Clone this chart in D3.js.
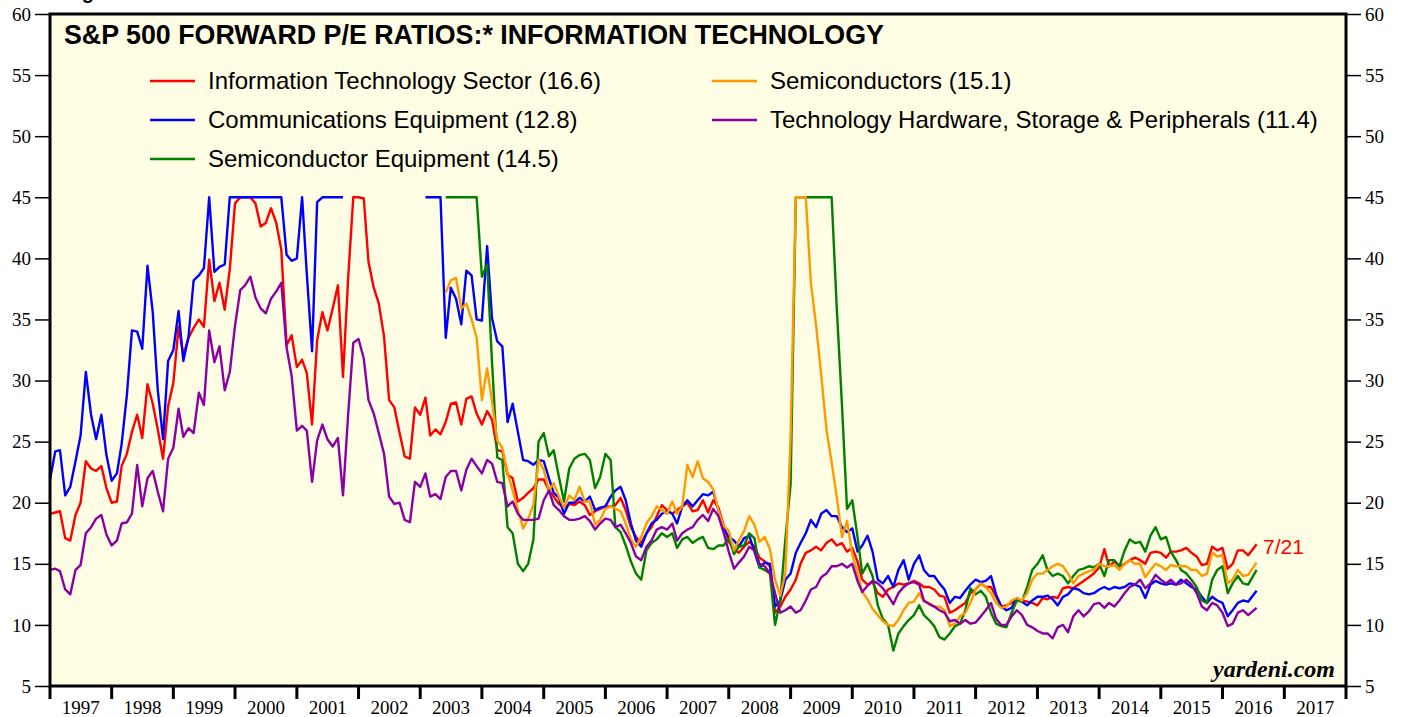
<!DOCTYPE html>
<html><head><meta charset="utf-8">
<script src="https://cdn.jsdelivr.net/npm/d3@7"></script>
<style>body{margin:0;background:#fff;} svg{display:block}</style>
</head><body><svg id="c" width="1405" height="717"></svg>
<script>
// ---------- DATA (monthly, Jan 1997 .. Jul 21 2016) ----------
const yearLabels = ["1997","1998","1999","2000","2001","2002","2003","2004","2005","2006","2007","2008","2009","2010","2011","2012","2013","2014","2015","2016","2017"];
const yTicks = [5,10,15,20,25,30,35,40,45,50,55,60];
const _ = null;

const itSector = [
19.1,19.2,19.3,17.1,16.9,19.0,20.0,23.4,22.8,22.6,23.0,21.2,
20.0,20.1,23.0,24.0,25.8,27.2,25.3,29.7,28.1,26.0,23.6,27.9,
29.8,34.4,32.1,33.5,34.3,35.0,34.4,39.9,36.5,38.0,35.8,39.1,
44.5,45,45,45,44.5,42.6,42.9,44.1,42.9,40.7,32.9,33.7,
31.1,31.7,30.6,26.4,33.3,35.6,34.1,35.9,37.8,30.3,38.5,45,
45,44.9,39.7,37.6,36.3,33.6,28.4,27.8,25.7,23.8,23.6,27.8,
27.2,28.6,25.5,26.0,25.6,26.6,28.1,28.2,26.4,28.5,28.7,27.3,
26.4,27.5,26.8,24.3,24.2,22.3,22.0,20.1,20.4,20.8,21.2,21.9,
21.9,21.0,20.5,19.9,19.6,19.9,19.8,20.1,19.8,19.0,19.3,19.5,
19.7,19.7,19.8,20.4,19.4,18.0,17.2,16.7,17.5,18.0,18.9,19.8,
19.4,19.1,19.4,19.7,20.0,19.3,19.4,20.2,19.2,20.2,19.6,18.2,
16.8,16.2,15.9,16.4,16.8,16.4,15.5,15.2,14.8,11.0,11.5,12.3,
12.9,13.7,15.0,15.9,16.1,16.4,16.1,16.7,17.0,16.5,16.7,16.0,
16.3,15.2,13.7,13.3,13.5,12.6,12.3,12.9,13.1,13.4,13.3,13.4,
13.6,13.4,13.1,13.1,12.9,12.4,12.3,11.0,11.2,11.5,11.8,12.6,
12.9,13.4,13.1,13.1,12.3,11.5,11.6,11.8,12.0,12.0,11.9,11.8,
11.6,12.2,12.1,12.3,12.2,13.0,13.1,13.0,13.3,13.6,13.9,14.2,
14.7,16.2,14.8,15.2,14.8,15.0,15.3,15.5,15.3,15.0,15.9,16.0,
15.9,15.5,16.0,16.0,16.1,16.3,15.9,15.6,14.9,15.0,16.4,16.1,
16.3,14.6,15.0,16.1,16.1,15.7,16.6];

const commEquip = [
21.9,24.2,24.3,20.6,21.3,23.4,25.5,30.7,27.2,25.2,27.2,23.9,
21.8,22.4,24.8,28.8,34.1,34.0,32.6,39.4,35.6,29.2,25.2,31.6,
32.5,35.7,31.6,33.6,38.2,38.6,39.2,45,38.9,39.3,39.5,45,
45,45,45,45,45,45,45,45,45,45,40.3,39.8,
40.0,45,38.7,32.4,44.6,45,45,45,45,45,_,_,
_,_,_,_,_,_,_,_,_,_,_,_,
_,45,45,45,45,33.5,37.6,36.7,34.6,39.0,38.6,35.0,
34.9,41.0,35.1,33.2,32.8,26.6,28.1,25.8,23.5,23.4,23.1,23.5,
23.4,22.0,20.8,20.4,19.1,20.0,20.0,20.4,20.1,20.5,19.4,19.6,
19.7,20.5,21.0,21.3,20.2,18.3,16.9,16.4,17.5,18.3,18.6,19.1,
19.3,19.1,18.3,19.7,20.2,19.7,20.2,20.7,20.6,20.9,19.4,17.9,
17.2,16.9,16.4,17.1,17.3,16.0,14.7,15.1,15.0,11.5,12.0,13.7,
14.2,15.9,16.7,17.5,18.6,18.0,19.1,19.4,18.9,18.9,18.0,17.6,
17.9,16.0,16.5,17.3,16.0,13.7,13.4,14.0,13.1,14.5,15.3,13.7,
15.0,15.7,14.5,14.0,14.0,13.4,12.9,11.8,12.3,12.2,12.8,13.3,
13.7,13.5,13.6,14.0,12.5,11.5,11.2,11.4,12.2,11.9,11.6,12.0,
12.3,12.3,12.4,12.1,11.6,12.3,12.5,13.0,12.9,12.6,12.5,12.6,
12.9,13.1,12.9,13.1,13.0,13.1,13.4,13.3,13.1,12.2,13.3,13.6,
13.4,13.3,13.4,13.3,13.7,13.4,13.1,12.9,12.3,11.8,12.3,12.0,
11.8,10.7,11.2,11.8,12.0,11.9,12.8];

const semiEquip = [
_,_,_,_,_,_,_,_,_,_,_,_,
_,_,_,_,_,_,_,_,_,_,_,_,
_,_,_,_,_,_,_,_,_,_,_,_,
_,_,_,_,_,_,_,_,_,_,_,_,
_,_,_,_,_,_,_,_,_,_,_,_,
_,_,_,_,_,_,_,_,_,_,_,_,
_,_,_,_,_,45,45,45,45,45,45,45,
38.5,39.5,31.5,23.7,23.5,18.0,17.5,15.0,14.4,15.0,17.0,25.0,
25.7,23.8,24.3,22.1,20.1,22.8,23.6,23.9,24.0,23.5,21.2,22.1,
24.0,23.5,18.0,17.6,16.5,15.2,14.2,13.7,16.1,16.7,17.0,17.5,
17.2,17.5,16.3,17.0,17.2,16.7,17.0,17.2,16.3,16.2,16.5,16.5,
17.1,15.8,16.4,16.5,17.5,17.1,14.7,14.5,14.2,10.0,12.0,17.0,
21.5,45,45,45,45,45,45,45,45,36.0,28.0,19.5,
20.2,17.2,14.2,15.0,14.0,11.6,10.5,10.0,7.9,9.3,9.9,10.4,
10.8,11.6,10.8,10.4,9.9,9.0,8.8,9.3,9.9,10.1,11.2,13.0,
12.5,12.8,12.3,11.0,10.1,9.9,9.8,11.0,12.0,11.9,13.1,14.5,
15.0,15.7,14.5,14.0,14.2,14.0,13.4,14.0,14.5,14.6,14.8,14.7,
15.0,14.0,15.3,15.3,14.8,16.1,17.0,16.7,16.8,16.0,17.3,18.0,
17.0,17.2,16.0,15.3,14.5,14.2,13.7,13.1,12.0,11.8,13.7,14.5,
14.8,12.6,13.4,14.0,13.4,13.3,14.5];

const semis = [
_,_,_,_,_,_,_,_,_,_,_,_,
_,_,_,_,_,_,_,_,_,_,_,_,
_,_,_,_,_,_,_,_,_,_,_,_,
_,_,_,_,_,_,_,_,_,_,_,_,
_,_,_,_,_,_,_,_,_,_,_,_,
_,_,_,_,_,_,_,_,_,_,_,_,
_,_,_,_,_,37.2,38.2,38.4,35.9,36.3,35.0,33.5,
28.4,31.0,28.3,25.1,24.5,22.4,21.0,19.4,17.9,18.7,19.8,23.5,
22.7,21.0,21.6,20.5,19.6,20.6,20.2,21.3,20.1,20.1,18.2,18.6,
19.5,19.7,19.5,19.3,18.3,17.0,16.4,17.2,18.3,18.9,19.7,19.4,
19.1,20.1,19.1,19.7,23.1,22.1,23.4,22.0,21.7,21.1,19.4,18.1,
17.7,16.1,16.9,17.7,18.9,18.2,16.8,17.2,16.2,13.7,12.4,14.2,
25.4,45,45,45,38.0,34.5,30.5,26.0,23.3,20.5,17.2,18.5,
15.8,14.2,12.7,12.1,11.3,10.8,10.3,10.0,9.9,10.4,11.2,11.8,
11.9,12.6,11.9,11.8,11.5,11.5,11.2,9.9,10.1,10.7,11.0,11.8,
12.9,13.4,13.1,12.6,11.8,11.4,11.5,12.0,12.2,12.0,12.6,13.7,
14.2,14.2,14.5,14.8,15.0,14.8,14.2,13.4,14.0,14.2,14.4,14.5,
15.0,14.8,14.8,14.9,14.5,15.0,15.3,15.0,15.0,13.9,14.5,15.0,
14.8,14.5,14.9,14.8,14.8,14.8,14.5,14.5,14.0,14.2,15.9,15.6,
15.7,13.4,13.7,14.5,14.0,14.1,15.1];

const techHardware = [
14.5,14.6,14.4,12.9,12.5,14.5,14.9,17.5,18.0,18.7,19.0,17.4,
16.5,16.9,18.3,18.4,19.1,23.1,19.7,22.0,22.6,20.9,19.3,23.6,
24.5,27.7,25.4,26.1,25.7,29.0,28.0,34.1,31.5,32.8,29.2,30.7,
34.5,37.4,37.8,38.5,36.8,35.9,35.5,36.7,37.3,38.0,32.7,30.4,
25.9,26.3,25.9,21.7,25.1,26.4,25.2,24.6,25.3,20.6,27.3,33.1,
33.4,31.8,28.4,27.3,25.7,24.0,20.5,19.9,20.0,18.6,18.4,21.7,
21.3,22.4,20.5,20.7,20.3,22.1,22.6,22.6,21.0,22.7,23.6,23.0,
22.4,23.5,23.2,21.7,21.6,19.7,20.1,19.1,18.6,18.6,18.6,18.7,
20.2,21.0,19.8,19.4,18.9,18.6,18.6,18.7,18.9,18.5,17.8,18.3,
18.7,18.6,18.0,18.2,17.5,16.7,15.6,15.3,16.4,16.9,17.8,18.0,
17.8,18.3,16.9,17.5,17.8,18.0,18.6,19.0,18.5,19.5,18.9,17.6,
16.0,14.6,15.1,15.6,16.4,16.1,15.0,14.8,14.2,12.6,11.0,11.2,
11.5,11.0,11.2,12.0,12.9,13.1,13.9,14.2,14.8,14.8,15.0,14.7,
15.0,13.6,12.7,13.2,13.6,13.4,13.0,12.4,11.7,12.6,13.1,13.4,
13.5,13.3,12.0,11.7,11.5,11.2,11.0,10.3,10.4,10.1,10.4,10.1,
10.2,10.7,11.2,11.8,10.5,10.0,10.0,10.7,11.2,10.8,10.0,9.8,
9.5,9.3,9.3,8.9,9.8,10.0,9.4,10.7,11.2,10.7,11.1,11.7,
11.8,11.4,11.8,11.5,12.0,12.6,13.1,13.3,13.7,13.0,13.4,14.1,
13.7,13.4,13.7,13.3,13.4,13.7,13.3,12.6,11.5,11.2,11.8,11.6,
11.0,9.9,10.1,11.0,11.2,10.8,11.4];

const seriesNames = ["Information Technology Sector (16.6)","Communications Equipment (12.8)","Semiconductor Equipment (14.5)","Semiconductors (15.1)","Technology Hardware, Storage & Peripherals (11.4)"];
const seriesColors = ["#ff0000","#0000ff","#008000","#ff9900","#8b00a3"];
const seriesValues = [itSector, commEquip, semiEquip, semis, techHardware];

// ---------- CHART ----------
const dates = d3.timeMonth.range(new Date(1997,0,1), new Date(2016,7,1));
dates[dates.length-1] = new Date(2016,6,21);

const svg = d3.select("#c");
const L = 50, R = 1346, T = 14, B = 686;
const x = d3.scaleTime().domain([new Date(1997,0,1), new Date(2018,0,1)]).range([L, R]);
const y = d3.scaleLinear().domain([5, 60]).range([B, T]);
const sans = "Liberation Sans, Arial, sans-serif";
const serif = "Liberation Serif, Times New Roman, serif";

// partially cropped header text (as in the reference)
svg.append("text").attr("x",64).attr("y",-1).attr("font-family",sans)
  .attr("font-weight","bold").attr("font-size",20).text("Figure 1.");

svg.append("rect").attr("x",L).attr("y",T).attr("width",R-L).attr("height",B-T).attr("fill","#fffde3");

svg.append("defs").append("clipPath").attr("id","clip").append("rect")
  .attr("x",L).attr("y",T).attr("width",R-L).attr("height",B-T);

const line = d3.line().defined(d => d.v != null).x(d => x(d.d)).y(d => y(d.v));
const g = svg.append("g").attr("clip-path","url(#clip)");
[0,1,2,3,4].forEach(i => {
  const data = seriesValues[i].map((v,k) => ({d: dates[k], v}));
  g.append("path").datum(data).attr("d", line).attr("fill","none")
    .attr("stroke", seriesColors[i]).attr("stroke-width",2.4).attr("stroke-linejoin","round");
});

// frame
svg.append("rect").attr("x",L).attr("y",T).attr("width",R-L).attr("height",B-T)
  .attr("fill","none").attr("stroke","#000").attr("stroke-width",3);

// y axes
const yl = d3.axisLeft(y).tickValues(yTicks).tickSize(14).tickPadding(4);
const yr = d3.axisRight(y).tickValues(yTicks).tickSize(14).tickPadding(4);
const gyl = svg.append("g").attr("transform",`translate(${L-1},0)`).call(yl);
const gyr = svg.append("g").attr("transform",`translate(${R+1},0)`).call(yr);
[gyl, gyr].forEach(a => {
  a.select(".domain").remove();
  a.selectAll("line").attr("stroke","#000").attr("stroke-width",1.5);
  a.selectAll("text").attr("font-family",serif).attr("font-size",19).attr("fill","#000");
});

// x axis: year boundary ticks + centered labels
const years = d3.range(1997, 2019).map(yy => new Date(yy,0,1));
const gx = svg.append("g");
gx.selectAll("line").data(years).join("line")
  .attr("x1", d => x(d)).attr("x2", d => x(d)).attr("y1", B).attr("y2", B+13)
  .attr("stroke","#000").attr("stroke-width",3);
gx.selectAll("text").data(yearLabels).join("text")
  .attr("x", (d,i) => (x(years[i]) + x(years[i+1]))/2).attr("y", 714)
  .attr("text-anchor","middle").attr("font-family",serif).attr("font-size",19).text(d => d);

// title
svg.append("text").attr("x",64).attr("y",44).attr("font-family",sans)
  .attr("font-weight","bold").attr("font-size",26.8).text("S&P 500 FORWARD P/E RATIOS:* INFORMATION TECHNOLOGY");

// legend
const legPos = [[150,81],[150,120],[150,159],[712,81],[712,120]];
seriesNames.forEach((n,i) => {
  const [lx,ly] = legPos[i];
  svg.append("line").attr("x1",lx).attr("x2",lx+45).attr("y1",ly).attr("y2",ly)
    .attr("stroke",seriesColors[i]).attr("stroke-width",2.5);
  svg.append("text").attr("x",lx+58).attr("y",ly+8).attr("font-family",sans)
    .attr("font-size",24).text(n);
});

// date label
svg.append("text").attr("x",1263).attr("y",554).attr("fill","#ff0000")
  .attr("font-family",sans).attr("font-size",21).text("7/21");

// source
svg.append("text").attr("x",1335).attr("y",677).attr("text-anchor","end")
  .attr("font-family",serif).attr("font-style","italic").attr("font-weight","bold")
  .attr("font-size",24).text("yardeni.com");
</script></body></html>
